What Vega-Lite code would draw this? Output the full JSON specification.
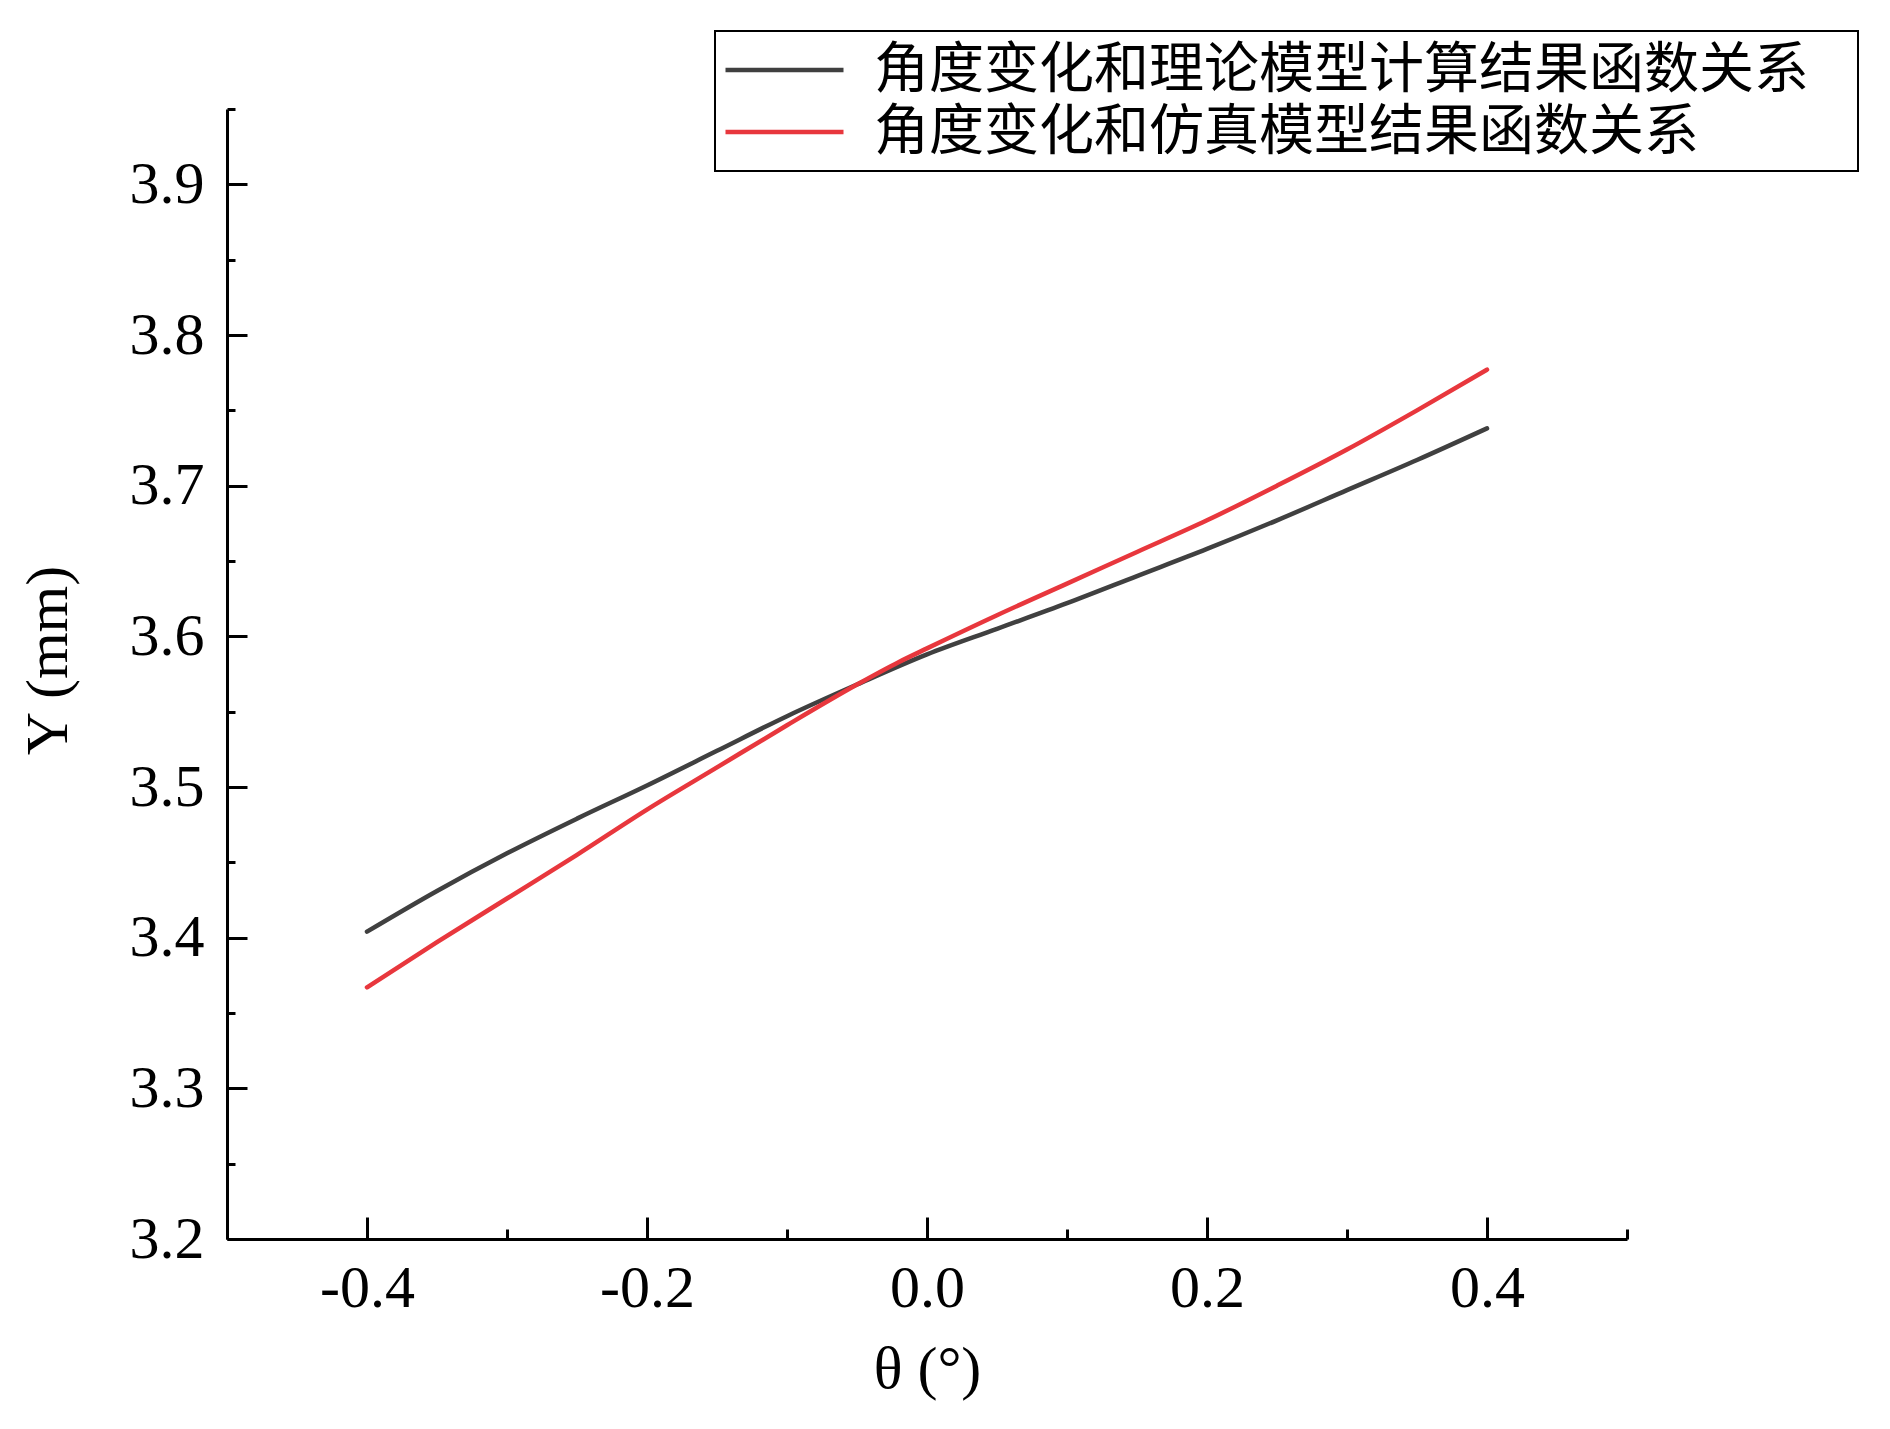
{
  "$schema": "https://vega.github.io/schema/vega-lite/v6.json",
  "width": 1400,
  "height": 1130,
  "autosize": {"type": "none"},
  "padding": {"left": 227, "top": 109, "right": 263, "bottom": 190},
  "background": "white",
  "config": {
    "view": {"stroke": null},
    "font": "Liberation Serif",
    "axis": {
      "grid": false,
      "domainColor": "black",
      "domainWidth": 3,
      "tickColor": "black",
      "tickWidth": 3,
      "labelFont": "Liberation Serif",
      "labelFontSize": 60,
      "labelColor": "black",
      "labelFlush": false,
      "labelOverlap": false,
      "titleFont": "Liberation Serif",
      "titleFontSize": 60,
      "titleFontWeight": "normal",
      "titleColor": "black"
    }
  },
  "data": {
    "values": [
      {"theta": -0.40, "Y": 3.404, "series": "角度变化和理论模型计算结果函数关系"},
      {"theta": -0.35, "Y": 3.431, "series": "角度变化和理论模型计算结果函数关系"},
      {"theta": -0.30, "Y": 3.456, "series": "角度变化和理论模型计算结果函数关系"},
      {"theta": -0.25, "Y": 3.479, "series": "角度变化和理论模型计算结果函数关系"},
      {"theta": -0.20, "Y": 3.501, "series": "角度变化和理论模型计算结果函数关系"},
      {"theta": -0.15, "Y": 3.524, "series": "角度变化和理论模型计算结果函数关系"},
      {"theta": -0.10, "Y": 3.547, "series": "角度变化和理论模型计算结果函数关系"},
      {"theta": -0.05, "Y": 3.568, "series": "角度变化和理论模型计算结果函数关系"},
      {"theta": 0.00, "Y": 3.588, "series": "角度变化和理论模型计算结果函数关系"},
      {"theta": 0.05, "Y": 3.605, "series": "角度变化和理论模型计算结果函数关系"},
      {"theta": 0.10, "Y": 3.622, "series": "角度变化和理论模型计算结果函数关系"},
      {"theta": 0.15, "Y": 3.640, "series": "角度变化和理论模型计算结果函数关系"},
      {"theta": 0.20, "Y": 3.658, "series": "角度变化和理论模型计算结果函数关系"},
      {"theta": 0.25, "Y": 3.677, "series": "角度变化和理论模型计算结果函数关系"},
      {"theta": 0.30, "Y": 3.697, "series": "角度变化和理论模型计算结果函数关系"},
      {"theta": 0.35, "Y": 3.717, "series": "角度变化和理论模型计算结果函数关系"},
      {"theta": 0.40, "Y": 3.738, "series": "角度变化和理论模型计算结果函数关系"},
      {"theta": -0.40, "Y": 3.367, "series": "角度变化和仿真模型结果函数关系"},
      {"theta": -0.35, "Y": 3.397, "series": "角度变化和仿真模型结果函数关系"},
      {"theta": -0.30, "Y": 3.426, "series": "角度变化和仿真模型结果函数关系"},
      {"theta": -0.25, "Y": 3.455, "series": "角度变化和仿真模型结果函数关系"},
      {"theta": -0.20, "Y": 3.485, "series": "角度变化和仿真模型结果函数关系"},
      {"theta": -0.15, "Y": 3.513, "series": "角度变化和仿真模型结果函数关系"},
      {"theta": -0.10, "Y": 3.541, "series": "角度变化和仿真模型结果函数关系"},
      {"theta": -0.05, "Y": 3.568, "series": "角度变化和仿真模型结果函数关系"},
      {"theta": -0.02, "Y": 3.583, "series": "角度变化和仿真模型结果函数关系"},
      {"theta": 0.00, "Y": 3.592, "series": "角度变化和仿真模型结果函数关系"},
      {"theta": 0.05, "Y": 3.614, "series": "角度变化和仿真模型结果函数关系"},
      {"theta": 0.10, "Y": 3.635, "series": "角度变化和仿真模型结果函数关系"},
      {"theta": 0.15, "Y": 3.656, "series": "角度变化和仿真模型结果函数关系"},
      {"theta": 0.20, "Y": 3.677, "series": "角度变化和仿真模型结果函数关系"},
      {"theta": 0.25, "Y": 3.700, "series": "角度变化和仿真模型结果函数关系"},
      {"theta": 0.30, "Y": 3.724, "series": "角度变化和仿真模型结果函数关系"},
      {"theta": 0.35, "Y": 3.750, "series": "角度变化和仿真模型结果函数关系"},
      {"theta": 0.40, "Y": 3.777, "series": "角度变化和仿真模型结果函数关系"}
    ]
  },
  "resolve": {"axis": {"x": "independent", "y": "independent"}},
  "layer": [
    {
      "mark": {"type": "point", "opacity": 0},
      "encoding": {
        "x": {
          "field": "theta",
          "type": "quantitative",
          "scale": {"domain": [-0.5, 0.5], "nice": false, "zero": false},
          "axis": {
            "orient": "bottom",
            "title": null,
            "values": [-0.5, -0.3, -0.1, 0.1, 0.3, 0.5],
            "labels": false,
            "domain": false,
            "tickSize": -10
          }
        },
        "y": {
          "field": "Y",
          "type": "quantitative",
          "scale": {"domain": [3.2, 3.95], "nice": false, "zero": false},
          "axis": {
            "orient": "left",
            "title": null,
            "values": [3.25, 3.35, 3.45, 3.55, 3.65, 3.75, 3.85, 3.95],
            "labels": false,
            "domain": false,
            "tickSize": -8
          }
        }
      }
    },
    {
      "mark": {"type": "line", "strokeWidth": 4.5, "interpolate": "monotone", "strokeCap": "round"},
      "encoding": {
        "x": {
          "field": "theta",
          "type": "quantitative",
          "scale": {"domain": [-0.5, 0.5], "nice": false, "zero": false},
          "axis": {
            "orient": "bottom",
            "title": "θ (°)",
            "values": [-0.4, -0.2, 0, 0.2, 0.4],
            "labelExpr": "(datum.value < -0.01 ? '-' : '') + format(abs(datum.value), '.1f')",
            "tickSize": -22,
            "labelPadding": 42,
            "titlePadding": 22
          }
        },
        "y": {
          "field": "Y",
          "type": "quantitative",
          "scale": {"domain": [3.2, 3.95], "nice": false, "zero": false},
          "axis": {
            "orient": "left",
            "title": "Y (mm)",
            "values": [3.2, 3.3, 3.4, 3.5, 3.6, 3.7, 3.8, 3.9],
            "labelExpr": "format(datum.value, '.1f')",
            "tickSize": -20,
            "labelPadding": 43,
            "titlePadding": 50,
            "titleY": 551
          }
        },
        "color": {
          "field": "series",
          "type": "nominal",
          "sort": ["角度变化和理论模型计算结果函数关系", "角度变化和仿真模型结果函数关系"],
          "scale": {
            "domain": ["角度变化和理论模型计算结果函数关系", "角度变化和仿真模型结果函数关系"],
            "range": ["#404040", "#E8373D"]
          },
          "legend": {
            "orient": "none",
            "legendX": 488,
            "legendY": -78,
            "title": null,
            "symbolType": "stroke",
            "symbolSize": 13924,
            "symbolStrokeWidth": 4.5,
            "labelFont": "Noto Sans CJK SC",
            "labelFontSize": 55,
            "labelColor": "black",
            "labelOffset": 28,
            "labelLimit": 2000,
            "labelExpr": "datum.label + '\u2800'",
            "padding": 8,
            "strokeColor": "black",
            "fillColor": "white",
            "clipHeight": 62,
            "rowPadding": 0,
            "encode": {"legend": {"update": {"strokeWidth": {"value": 2}}}}
          }
        }
      }
    }
  ]
}
